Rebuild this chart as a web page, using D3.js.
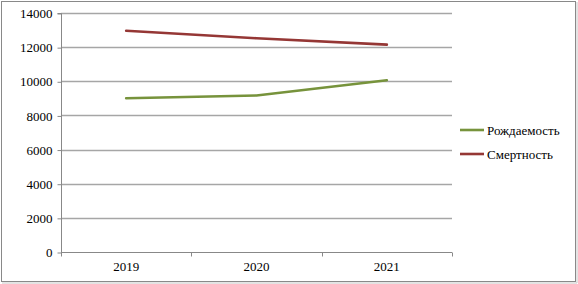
<!DOCTYPE html>
<html><head><meta charset="utf-8">
<script src="https://cdn.jsdelivr.net/npm/d3@7"></script>
<style>html,body{margin:0;padding:0;background:#fff}</style>
</head><body>
<svg id="c" width="578" height="284"></svg>
<script>
const categories = ["2019", "2020", "2021"];
const birth = [9010, 9170, 10060];
const death = [12960, 12520, 12150];
const seriesNames = ["Рождаемость", "Смертность"];
const yTicks = [0, 2000, 4000, 6000, 8000, 10000, 12000, 14000];
const colors = ["#77933c", "#953735"];

const FONT = "Liberation Serif, DejaVu Serif, Times New Roman, serif";
const svg = d3.select("#c").style("font-family", FONT);
svg.append("rect").attr("x", 1.5).attr("y", 1.5).attr("width", 574).attr("height", 280)
  .attr("fill", "#fff").attr("stroke", "#898989").attr("stroke-width", 1);
svg.append("line").attr("x1", 2).attr("x2", 577).attr("y1", 283).attr("y2", 283).attr("stroke", "#c8c8c8");
svg.append("line").attr("x1", 577).attr("x2", 577).attr("y1", 2).attr("y2", 283).attr("stroke", "#c8c8c8");

const L = 61, R = 452, T = 13, B = 252;
const x = d3.scaleBand().domain(categories).range([L, R]);
const y = d3.scaleLinear().domain([0, 14000]).range([B, T]);

// grid
svg.append("g").selectAll("line").data(yTicks.filter(d => d > 0)).join("line")
  .attr("x1", L).attr("x2", R).attr("y1", d => Math.round(y(d)) + 0.5).attr("y2", d => Math.round(y(d)) + 0.5)
  .attr("stroke", "#a6a6a6").attr("stroke-width", 1.3);

// y axis
const ya = svg.append("g").attr("transform", `translate(${L + 0.5},0.5)`)
  .call(d3.axisLeft(y).tickValues(yTicks).tickSize(4).tickPadding(5).tickFormat(d3.format("d")));
ya.attr("font-family", null);
ya.select(".domain").attr("stroke", "#888").attr("d", `M-4,${y(14000)}H0V${y(0)}`);
ya.selectAll(".tick line").attr("stroke", "#888");
ya.selectAll("text").style("font-family", FONT).attr("font-size", 13).attr("fill", "#000");

// x axis
const xa = svg.append("g").attr("transform", `translate(0,${B + 0.5})`)
  .call(d3.axisBottom(x).tickSize(0).tickPadding(9));
xa.attr("font-family", null);
xa.select(".domain").attr("stroke", "#888").attr("d", `M${L},0H${R}`);
xa.selectAll("text").style("font-family", FONT).attr("font-size", 13).attr("fill", "#000");
const bounds = [L, ...categories.slice(1).map(c => x(c)), R];
xa.selectAll("line.b").data(bounds).join("line").attr("class", "b")
  .attr("x1", d => Math.round(d) + 0.5).attr("x2", d => Math.round(d) + 0.5).attr("y1", 0).attr("y2", 4)
  .attr("stroke", "#888");

// lines
const line = d3.line().x((d, i) => x(categories[i]) + x.bandwidth() / 2).y(d => y(d));
[birth, death].forEach((s, i) => {
  svg.append("path").datum(s).attr("d", line).attr("fill", "none")
    .attr("stroke", colors[i]).attr("stroke-width", 2.6).attr("stroke-linecap", "round");
});

// legend
const lg = svg.append("g");
seriesNames.forEach((n, i) => {
  const yy = 130 + i * 24;
  lg.append("line").attr("x1", 460).attr("x2", 484).attr("y1", yy).attr("y2", yy)
    .attr("stroke", colors[i]).attr("stroke-width", 2.6);
  lg.append("text").attr("x", 487).attr("y", yy + 4.5).text(n)
    .style("font-family", FONT).attr("font-size", 13).attr("fill", "#000");
});
</script>
</body></html>
